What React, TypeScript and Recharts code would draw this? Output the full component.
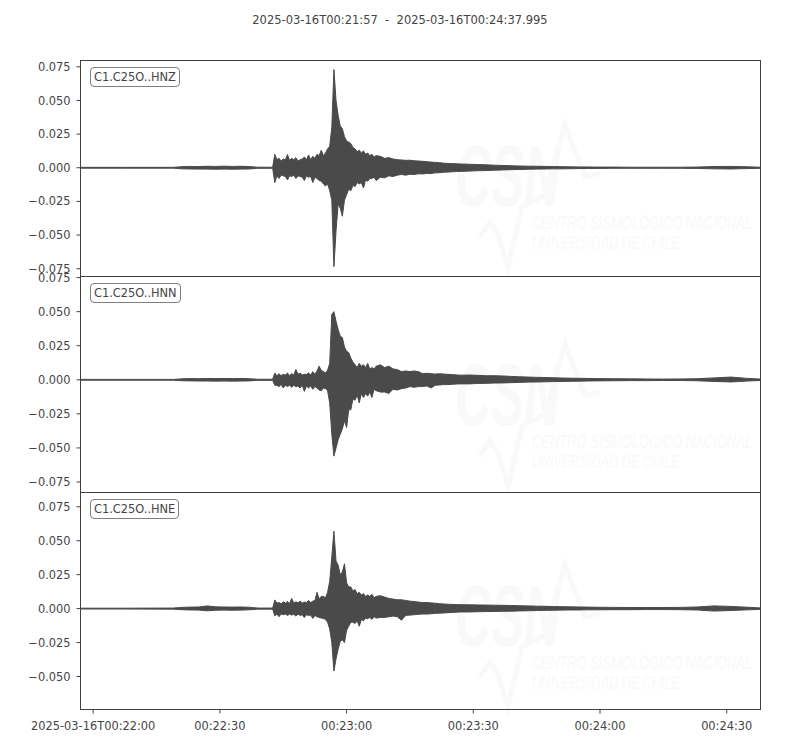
import React from 'react';
import { ComposedChart, Area, XAxis, YAxis } from 'recharts';

// seconds after 2025-03-16T00:21:57
const TIME_S = [
  0, 10, 22, 24, 26, 28, 30, 32, 34, 36, 38, 40, 42, 45.5,
  46, 46.5, 47, 47.5, 48, 48.5, 49, 49.5, 50,
  50.5, 51, 51.5, 52, 52.5, 53, 53.5, 54, 54.5, 55,
  55.5, 56, 56.5, 57, 57.5, 58, 58.5, 59, 59.5, 60,
  60.5, 61, 61.5, 62, 62.5, 63, 63.5, 64, 64.5, 65,
  65.5, 66, 66.5, 67, 67.5, 68, 68.5, 69, 69.5, 70,
  71, 72, 73, 74, 75, 76, 77, 78, 79, 80, 81, 82, 83, 84, 85, 86, 87, 88, 89, 90,
  92, 94, 96, 98, 100, 102, 104, 106, 108, 110, 112, 114, 116, 118, 120,
  122, 126, 130, 134, 138, 142, 146, 150, 154, 158, 161,
];

// envelope of each trace (upper / lower)
const HNZ_HIGH = [
  0.0003, 0.0003, 0.0003, 0.0008, 0.0010, 0.0009, 0.0011, 0.0010, 0.0012, 0.0010, 0.0011, 0.0009, 0.0004, 0.0004,
  0.010, 0.006, 0.007, 0.005, 0.0065, 0.006, 0.0098, 0.0055, 0.007,
  0.006, 0.0075, 0.005, 0.006, 0.0065, 0.008, 0.006, 0.0095, 0.006, 0.0085,
  0.007, 0.010, 0.009, 0.013, 0.009, 0.011, 0.014, 0.016, 0.030, 0.073,
  0.050, 0.039, 0.031, 0.029, 0.023, 0.020, 0.019, 0.018, 0.015, 0.014,
  0.012, 0.013, 0.011, 0.0125, 0.010, 0.011, 0.009, 0.010, 0.008, 0.009,
  0.0085, 0.007, 0.0075, 0.0065, 0.006, 0.0058, 0.0055, 0.0056, 0.0052, 0.005, 0.0048, 0.0045, 0.0042, 0.0040, 0.0038, 0.0034, 0.0032, 0.0031, 0.0030, 0.0028,
  0.0026, 0.0024, 0.0022, 0.0019, 0.0017, 0.0015, 0.0013, 0.0012, 0.0011, 0.0010, 0.0009, 0.0008, 0.0007, 0.0006, 0.0006,
  0.0005, 0.0005, 0.0004, 0.0004, 0.0004, 0.0004, 0.0005, 0.0009, 0.0010, 0.0007, 0.0004,
];
const HNZ_LOW = [
  -0.0003, -0.0003, -0.0003, -0.0008, -0.0009, -0.0010, -0.0010, -0.0011, -0.0010, -0.0011, -0.0010, -0.0009, -0.0004, -0.0004,
  -0.011, -0.006, -0.008, -0.0055, -0.006, -0.0065, -0.009, -0.006, -0.0065,
  -0.0055, -0.008, -0.006, -0.0065, -0.007, -0.0095, -0.006, -0.007, -0.0065, -0.011,
  -0.007, -0.008, -0.0095, -0.010, -0.012, -0.0135, -0.012, -0.017, -0.024, -0.0735,
  -0.047, -0.027, -0.030, -0.036, -0.024, -0.020, -0.016, -0.017, -0.013, -0.014,
  -0.011, -0.012, -0.011, -0.015, -0.009, -0.010, -0.008, -0.008, -0.007, -0.0095,
  -0.007, -0.0075, -0.006, -0.0065, -0.0055, -0.005, -0.0055, -0.0048, -0.005, -0.0045, -0.0046, -0.0042, -0.0043, -0.0038, -0.0037, -0.0033, -0.0032, -0.0030, -0.0028, -0.0027,
  -0.0025, -0.0022, -0.0021, -0.0018, -0.0016, -0.0014, -0.0013, -0.0011, -0.0010, -0.0009, -0.0008, -0.0008, -0.0007, -0.0006, -0.0005,
  -0.0005, -0.0004, -0.0004, -0.0004, -0.0004, -0.0004, -0.0005, -0.0008, -0.0009, -0.0006, -0.0004,
];

const HNN_HIGH = [
  0.0003, 0.0003, 0.0003, 0.0007, 0.0009, 0.0008, 0.0010, 0.0009, 0.0010, 0.0009, 0.0010, 0.0008, 0.0004, 0.0004,
  0.005, 0.003, 0.0045, 0.003, 0.004, 0.0035, 0.005, 0.003, 0.0045,
  0.0035, 0.0075, 0.004, 0.005, 0.0035, 0.004, 0.004, 0.005, 0.0035, 0.006,
  0.004, 0.0065, 0.010, 0.007, 0.006, 0.005, 0.007, 0.012, 0.048, 0.050,
  0.043, 0.037, 0.032, 0.031, 0.024, 0.021, 0.020, 0.016, 0.013, 0.011,
  0.009, 0.012, 0.010, 0.011, 0.009, 0.012, 0.008, 0.009, 0.008, 0.010,
  0.011, 0.009, 0.010, 0.008, 0.0075, 0.006, 0.0065, 0.006, 0.0065, 0.006, 0.0045, 0.0048, 0.0045, 0.0042, 0.0045, 0.0042, 0.004, 0.0038, 0.0036, 0.0034,
  0.0035, 0.0033, 0.0030, 0.0030, 0.0028, 0.0025, 0.0022, 0.0020, 0.0018, 0.0017, 0.0015, 0.0013, 0.0012, 0.0011, 0.0010,
  0.0009, 0.0008, 0.0007, 0.0006, 0.0005, 0.0006, 0.0008, 0.0014, 0.0020, 0.0010, 0.0005,
];
const HNN_LOW = [
  -0.0003, -0.0003, -0.0003, -0.0007, -0.0008, -0.0009, -0.0009, -0.0010, -0.0009, -0.0010, -0.0009, -0.0008, -0.0004, -0.0004,
  -0.004, -0.004, -0.005, -0.0035, -0.006, -0.004, -0.005, -0.004, -0.0055,
  -0.004, -0.005, -0.0045, -0.006, -0.004, -0.0085, -0.0045, -0.006, -0.0045, -0.007,
  -0.005, -0.006, -0.0075, -0.008, -0.006, -0.0065, -0.008, -0.017, -0.040, -0.056,
  -0.050, -0.044, -0.040, -0.036, -0.030, -0.035, -0.022, -0.022, -0.014, -0.015,
  -0.011, -0.017, -0.010, -0.013, -0.010, -0.012, -0.009, -0.013, -0.007, -0.008,
  -0.009, -0.009, -0.010, -0.007, -0.0075, -0.0065, -0.006, -0.005, -0.0055, -0.005, -0.005, -0.0045, -0.006, -0.004, -0.0038, -0.0035, -0.0035, -0.0033, -0.0031, -0.003,
  -0.0030, -0.0027, -0.0026, -0.0024, -0.0023, -0.0021, -0.0019, -0.0017, -0.0016, -0.0015, -0.0013, -0.0012, -0.0011, -0.0010, -0.0009,
  -0.0008, -0.0007, -0.0006, -0.0006, -0.0005, -0.0005, -0.0007, -0.0012, -0.0016, -0.0009, -0.0005,
];

const HNE_HIGH = [
  0.0003, 0.0003, 0.0004, 0.0009, 0.0011, 0.0012, 0.0020, 0.0013, 0.0012, 0.0011, 0.0012, 0.0010, 0.0004, 0.0004,
  0.0064, 0.004, 0.0045, 0.0035, 0.005, 0.004, 0.0052, 0.0038, 0.0075,
  0.004, 0.005, 0.0042, 0.0055, 0.004, 0.0048, 0.0045, 0.006, 0.0045, 0.0055,
  0.006, 0.012, 0.007, 0.009, 0.009, 0.008, 0.012, 0.020, 0.038, 0.057,
  0.035, 0.032, 0.025, 0.027, 0.033, 0.019, 0.016, 0.016, 0.013, 0.014,
  0.011, 0.012, 0.010, 0.011, 0.009, 0.010, 0.009, 0.0105, 0.008, 0.009,
  0.0095, 0.0085, 0.0075, 0.007, 0.0065, 0.0065, 0.006, 0.0055, 0.0052, 0.0048, 0.0045, 0.0045, 0.0042, 0.004, 0.0036, 0.0034, 0.0032, 0.0031, 0.0030, 0.0029,
  0.0028, 0.0027, 0.0026, 0.0025, 0.0024, 0.0023, 0.0021, 0.0020, 0.0018, 0.0017, 0.0015, 0.0014, 0.0013, 0.0012, 0.0011,
  0.0010, 0.0009, 0.0008, 0.0008, 0.0008, 0.0009, 0.0012, 0.0020, 0.0016, 0.0010, 0.0005,
];
const HNE_LOW = [
  -0.0003, -0.0003, -0.0004, -0.0008, -0.0010, -0.0011, -0.0016, -0.0012, -0.0011, -0.0012, -0.0011, -0.0009, -0.0004, -0.0004,
  -0.0054, -0.004, -0.006, -0.004, -0.0045, -0.004, -0.005, -0.004, -0.0048,
  -0.0042, -0.0055, -0.004, -0.005, -0.0045, -0.0065, -0.0045, -0.005, -0.0048, -0.0072,
  -0.005, -0.006, -0.0065, -0.007, -0.0072, -0.008, -0.010, -0.015, -0.025, -0.046,
  -0.037, -0.030, -0.024, -0.023, -0.025, -0.016, -0.013, -0.010, -0.010, -0.011,
  -0.009, -0.013, -0.008, -0.009, -0.007, -0.0075, -0.0065, -0.008, -0.006, -0.007,
  -0.0065, -0.0065, -0.006, -0.0055, -0.006, -0.0085, -0.005, -0.0048, -0.0045, -0.0042, -0.004, -0.004, -0.0038, -0.0035, -0.0034, -0.0032, -0.0030, -0.0028, -0.0026, -0.0025,
  -0.0025, -0.0023, -0.0022, -0.0021, -0.0020, -0.0019, -0.0017, -0.0016, -0.0014, -0.0013, -0.0012, -0.0011, -0.0010, -0.0010, -0.0009,
  -0.0009, -0.0008, -0.0008, -0.0007, -0.0007, -0.0008, -0.0010, -0.0018, -0.0014, -0.0009, -0.0005,
];

const X_TICKS = [3, 33, 63, 93, 123, 153];
const X_TICK_LABELS = ['2025-03-16T00:22:00', '00:22:30', '00:23:00', '00:23:30', '00:24:00', '00:24:30'];
const Y_TICKS_FULL = [-0.075, -0.05, -0.025, 0, 0.025, 0.05, 0.075];
const Y_TICKS_E = [-0.05, -0.025, 0, 0.025, 0.05, 0.075];
const TITLE = '2025-03-16T00:21:57  -  2025-03-16T00:24:37.995';

const data = TIME_S.map((t, i) => ({
  t,
  hnz: [HNZ_LOW[i], HNZ_HIGH[i]],
  hnn: [HNN_LOW[i], HNN_HIGH[i]],
  hne: [HNE_LOW[i], HNE_HIGH[i]],
}));

const FONT = '"DejaVu Sans", sans-serif';
const NARROW = '"Liberation Sans Narrow", sans-serif';
const TEXT = '#444444';
const SPINE = '#404040';
const TRACE = '#4a4a4a';
const FAINT = '#f9f9f9';

const fmtY = (v: number) => {
  const s = Math.abs(v).toFixed(3);
  return v < 0 ? '\u2212' + s : s;
};

const panels = [
  { key: 'hnz', label: 'C1.C25O..HNZ', top: 50, height: 237, domain: [-0.0808, 0.0797], ticks: Y_TICKS_FULL, boxTop: 60, boxH: 217, wm: 0 },
  { key: 'hnn', label: 'C1.C25O..HNN', top: 266, height: 237, domain: [-0.0827, 0.0758], ticks: Y_TICKS_FULL, boxTop: 276, boxH: 217, wm: 219 },
  { key: 'hne', label: 'C1.C25O..HNE', top: 482, height: 268, domain: [-0.0743, 0.0855], ticks: Y_TICKS_E, boxTop: 492, boxH: 218, wm: 440 },
];

// faint CSN logo printed behind each trace
const Watermark = ({ dy }: { dy: number }) => (
  <g fill={FAINT} stroke="none">
    <path
      d={`M480 ${237 + dy} L490 ${222 + dy} L497 ${232 + dy} L508 ${267 + dy} L522 ${207 + dy} L545 ${195 + dy} L565 ${125 + dy} L585 ${177 + dy} L600 ${173 + dy}`}
      stroke={FAINT}
      strokeWidth={5}
      fill="none"
    />
    <text x={455} y={206 + dy} fontSize={88} fontWeight="bold" fontStyle="italic" fontFamily={NARROW} textLength={105} lengthAdjust="spacingAndGlyphs">CSN</text>
    <text x={532} y={229 + dy} fontSize={18} fontStyle="italic" fontFamily={NARROW} textLength={220} lengthAdjust="spacingAndGlyphs">CENTRO SISMOLÓGICO NACIONAL</text>
    <text x={532} y={249 + dy} fontSize={18} fontStyle="italic" fontFamily={NARROW} textLength={148} lengthAdjust="spacingAndGlyphs">UNIVERSIDAD DE CHILE</text>
  </g>
);

export default function App() {
  return (
    <div style={{ position: 'fixed', left: 0, top: 0, width: 800, height: 750, background: '#fff', fontFamily: FONT, overflow: 'hidden' }}>
      <svg width={800} height={750} style={{ position: 'absolute', left: 0, top: 0 }}>
        {panels.map((p) => (
          <Watermark key={p.key} dy={p.wm} />
        ))}
      </svg>

      <div style={{ position: 'absolute', top: 13, left: 0, width: 800, textAlign: 'center', fontSize: 11.5, lineHeight: '14px', color: TEXT, whiteSpace: 'pre' }}>
        {TITLE}
      </div>

      {panels.map((p, idx) => {
        const last = idx === panels.length - 1;
        return (
          <div key={p.key} style={{ position: 'absolute', left: 0, top: p.top }}>
            <ComposedChart
              width={800}
              height={p.height}
              data={data}
              margin={{ top: 10.5, right: 39.5, left: 0.5, bottom: last ? 0.5 : 10.5 }}
            >
              <XAxis
                dataKey="t"
                type="number"
                domain={[0, 160.995]}
                ticks={X_TICKS}
                interval={0}
                hide={!last}
                height={40}
                axisLine={false}
                tickSize={4}
                tickMargin={8}
                tickLine={{ stroke: SPINE }}
                tick={{ fill: TEXT, fontSize: 11.4, fontFamily: FONT }}
                tickFormatter={(v: number) => X_TICK_LABELS[X_TICKS.indexOf(v)] ?? ''}
              />
              <YAxis
                type="number"
                domain={p.domain}
                ticks={p.ticks}
                interval={0}
                allowDataOverflow
                width={80}
                axisLine={false}
                tickSize={4}
                tickMargin={6}
                tickLine={{ stroke: SPINE }}
                tick={{ fill: TEXT, fontSize: 11.4, fontFamily: FONT }}
                tickFormatter={fmtY}
              />
              <Area
                type="linear"
                dataKey={p.key}
                stroke={TRACE}
                strokeWidth={1}
                fill={TRACE}
                fillOpacity={1}
                dot={false}
                activeDot={false}
                isAnimationActive={false}
              />
            </ComposedChart>
          </div>
        );
      })}

      {panels.map((p) => (
        <React.Fragment key={p.key + '-frame'}>
          <div
            style={{
              position: 'absolute', left: 80, top: p.boxTop, width: 681, height: p.boxH,
              boxSizing: 'border-box', border: `1px solid ${SPINE}`, pointerEvents: 'none',
            }}
          />
          <div
            style={{
              position: 'absolute', left: 90, top: p.boxTop + 7, boxSizing: 'border-box',
              border: '1px solid #808080', borderRadius: 4, background: '#fff',
              padding: '1px 3px', fontSize: 11.4, lineHeight: '16px', color: TEXT, whiteSpace: 'nowrap',
            }}
          >
            {p.label}
          </div>
        </React.Fragment>
      ))}
    </div>
  );
}
